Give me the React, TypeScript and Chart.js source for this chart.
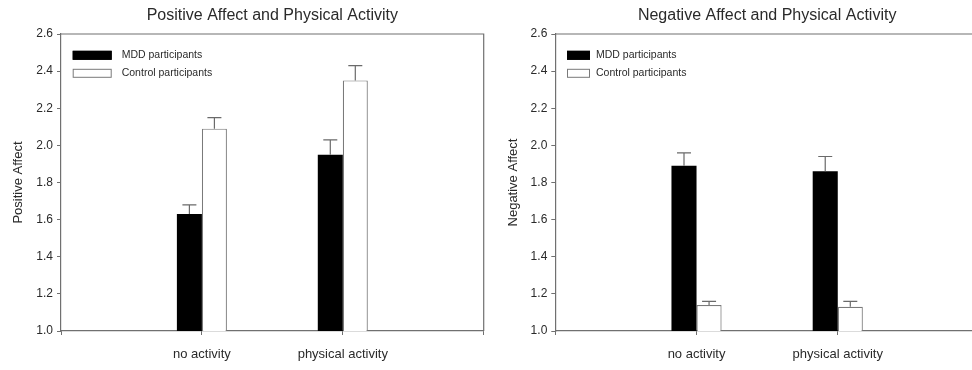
import React, { useEffect, useRef } from 'react';
import { Chart, registerables } from 'chart.js';

Chart.register(...registerables);

const FONT = '"Liberation Sans", Arial, Helvetica, sans-serif';

// ---- data ----
const categories = ['no activity', 'physical activity'];
const seriesNames = ['MDD participants', 'Control participants'];
const yTickValues = [1.0, 1.2, 1.4, 1.6, 1.8, 2.0, 2.2, 2.4, 2.6];

const positiveMDD = [1.63, 1.95];
const positiveMDDErr = [0.05, 0.08];
const positiveControl = [2.09, 2.35];
const positiveControlErr = [0.06, 0.08];

const negativeMDD = [1.89, 1.86];
const negativeMDDErr = [0.07, 0.08];
const negativeControl = [1.14, 1.13];
const negativeControlErr = [0.02, 0.03];

const AXIS_COLOR = '#707070';
const TEXT_COLOR = '#2a2a2a';

const errorBarPlugin = {
  id: 'errorBars',
  afterDatasetsDraw(chart: any, _args: any, opts: any) {
    const ctx = chart.ctx;
    const yScale = chart.scales.y;
    chart.data.datasets.forEach((ds: any, i: number) => {
      const meta = chart.getDatasetMeta(i);
      const errs = ds.errors;
      if (!errs) return;
      meta.data.forEach((bar: any, j: number) => {
        const v = ds.data[j];
        const e = errs[j];
        if (v == null || e == null) return;
        const yTop = yScale.getPixelForValue(v + e);
        ctx.save();
        ctx.strokeStyle = opts.color;
        ctx.lineWidth = opts.lineWidth;
        ctx.beginPath();
        ctx.moveTo(bar.x, bar.y);
        ctx.lineTo(bar.x, yTop);
        ctx.moveTo(bar.x - opts.capWidth / 2, yTop);
        ctx.lineTo(bar.x + opts.capWidth / 2, yTop);
        ctx.stroke();
        ctx.restore();
      });
    });
  },
};

const boxLegendPlugin = {
  id: 'boxLegend',
  afterDraw(chart: any, _args: any, opts: any) {
    const { ctx, chartArea } = chart;
    ctx.save();
    ctx.font = `${opts.fontSize}px ${FONT}`;
    ctx.textBaseline = 'middle';
    ctx.textAlign = 'left';
    chart.data.datasets.forEach((ds: any, i: number) => {
      const x = chartArea.left + opts.offsetX;
      const yc = chartArea.top + opts.offsetY + i * opts.rowGap;
      const top = yc - opts.boxHeight / 2;
      ctx.fillStyle = ds.backgroundColor;
      ctx.fillRect(x, top, opts.boxWidth, opts.boxHeight);
      ctx.strokeStyle = ds.borderColor;
      ctx.lineWidth = 1;
      ctx.strokeRect(x + 0.5, top + 0.5, opts.boxWidth - 1, opts.boxHeight - 1);
      ctx.fillStyle = opts.color;
      ctx.fillText(ds.label, x + opts.boxWidth + opts.gap, yc);
    });
    ctx.restore();
  },
};

const framePlugin = {
  id: 'frame',
  afterDraw(chart: any, _args: any, opts: any) {
    const { ctx, chartArea } = chart;
    ctx.save();
    ctx.strokeStyle = opts.color;
    ctx.lineWidth = opts.lineWidth;
    ctx.beginPath();
    ctx.moveTo(chartArea.left, chartArea.top);
    ctx.lineTo(chartArea.right, chartArea.top);
    ctx.lineTo(chartArea.right, chartArea.bottom);
    ctx.stroke();
    ctx.restore();
  },
};

type PanelProps = {
  title: string;
  yTitle: string;
  mdd: number[];
  mddErr: number[];
  ctrl: number[];
  ctrlErr: number[];
  width: number;
  padLeft: number;
  padRight: number;
  legendBoxWidth: number;
  legendGap: number;
};

function ChartPanel(p: PanelProps) {
  const ref = useRef<HTMLCanvasElement | null>(null);
  useEffect(() => {
    if (!ref.current) return;
    const labels = ['', ...categories, ''];
    const pad = (arr: number[]) => [null, ...arr, null];
    const chart = new Chart(ref.current, {
      type: 'bar',
      data: {
        labels,
        datasets: [
          {
            label: seriesNames[0],
            data: pad(p.mdd) as any,
            errors: pad(p.mddErr),
            backgroundColor: '#000000',
            borderColor: '#000000',
            borderWidth: 0,
          } as any,
          {
            label: seriesNames[1],
            data: pad(p.ctrl) as any,
            errors: pad(p.ctrlErr),
            backgroundColor: '#ffffff',
            borderColor: '#7a7a7a',
            borderWidth: 1.2,
          } as any,
        ],
      },
      options: {
        responsive: false,
        maintainAspectRatio: false,
        animation: false,
        layout: { padding: { left: p.padLeft, right: p.padRight, top: 0, bottom: 0 } },
        datasets: { bar: { categoryPercentage: 0.355, barPercentage: 1 } },
        scales: {
          x: {
            type: 'category',
            offset: false,
            grid: {
              display: true,
              offset: false,
              drawOnChartArea: false,
              drawTicks: true,
              tickLength: 4,
              color: AXIS_COLOR,
            },
            border: { display: true, color: AXIS_COLOR, width: 1.2 },
            ticks: {
              autoSkip: false,
              maxRotation: 0,
              padding: 12,
              color: TEXT_COLOR,
              font: { family: FONT, size: 13 },
            },
            afterFit: (s: any) => {
              s.height = 39;
              s.paddingLeft = 0;
              s.paddingRight = 0;
            },
          },
          y: {
            min: 1.0,
            max: 2.6,
            grid: {
              display: true,
              drawOnChartArea: false,
              drawTicks: true,
              tickLength: 4,
              color: AXIS_COLOR,
            },
            border: { display: true, color: AXIS_COLOR, width: 1.2 },
            ticks: {
              padding: 4,
              color: TEXT_COLOR,
              font: { family: FONT, size: 12 },
              callback: (v: any) => Number(v).toFixed(1),
            },
            afterBuildTicks: (s: any) => {
              s.ticks = yTickValues.map((v) => ({ value: v }));
            },
            title: {
              display: true,
              text: p.yTitle,
              color: TEXT_COLOR,
              font: { family: FONT, size: 13 },
              padding: { top: 11, bottom: 0 },
            },
            afterFit: (s: any) => {
              s.width = 61;
            },
          },
        },
        plugins: {
          legend: { display: false },
          tooltip: { enabled: false },
          title: {
            display: true,
            text: p.title,
            fullSize: false,
            color: TEXT_COLOR,
            font: { family: FONT, size: 16, weight: 'normal' },
            padding: { top: 6, bottom: 8.8 },
          },
          errorBars: { color: '#6a6a6a', lineWidth: 1.2, capWidth: 14 },
          boxLegend: {
            offsetX: 11.7,
            offsetY: 21.3,
            rowGap: 18,
            boxWidth: p.legendBoxWidth,
            boxHeight: 9,
            gap: p.legendGap,
            fontSize: 10.5,
            color: TEXT_COLOR,
          },
          frame: { color: AXIS_COLOR, lineWidth: 1.2 },
        } as any,
      },
      plugins: [errorBarPlugin, boxLegendPlugin, framePlugin] as any,
    });
    return () => chart.destroy();
  }, []);
  return <canvas ref={ref} width={p.width} height={370} style={{ display: 'block' }} />;
}

export default function App() {
  return (
    <div
      style={{
        position: 'fixed',
        left: 0,
        top: 0,
        width: 972,
        height: 370,
        overflow: 'hidden',
        background: '#ffffff',
      }}
    >
      <div style={{ position: 'absolute', left: 0, top: 0, width: 486, height: 370 }}>
        <ChartPanel
          title="Positive Affect and Physical Activity"
          yTitle="Positive Affect"
          mdd={positiveMDD}
          mddErr={positiveMDDErr}
          ctrl={positiveControl}
          ctrlErr={positiveControlErr}
          width={486}
          padLeft={0}
          padRight={2.3}
          legendBoxWidth={39}
          legendGap={10}
        />
      </div>
      <div style={{ position: 'absolute', left: 486, top: 0, width: 496, height: 370 }}>
        <ChartPanel
          title="Negative Affect and Physical Activity"
          yTitle="Negative Affect"
          mdd={negativeMDD}
          mddErr={negativeMDDErr}
          ctrl={negativeControl}
          ctrlErr={negativeControlErr}
          width={496}
          padLeft={8.3}
          padRight={3}
          legendBoxWidth={23}
          legendGap={6}
        />
      </div>
    </div>
  );
}
